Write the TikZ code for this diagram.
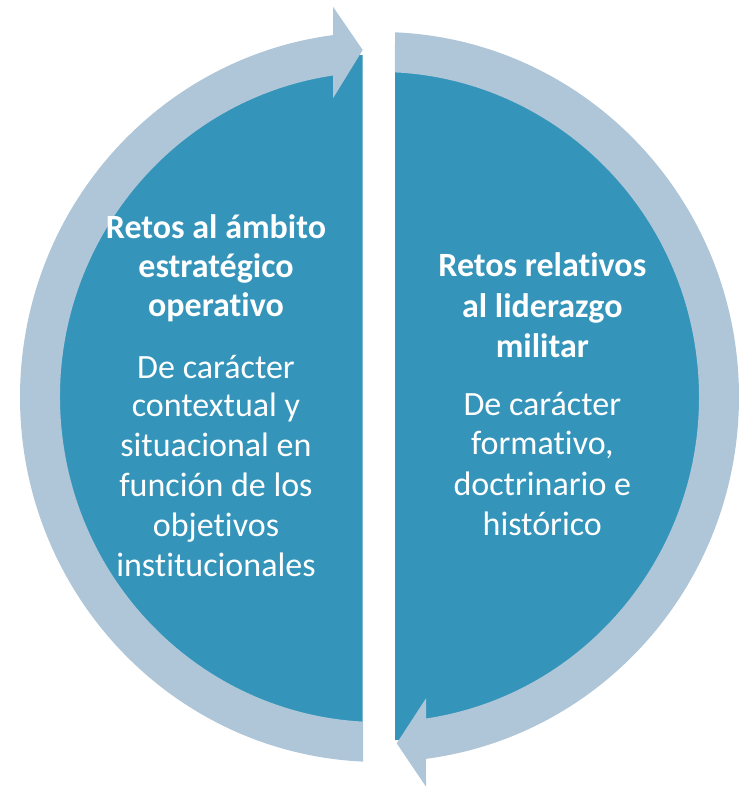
\documentclass[tikz,border=0pt]{standalone}
\usepackage{fontspec}
\setmainfont{Carlito}[RawFeature={-liga;-clig;-dlig}]
\definecolor{discblue}{HTML}{3494BA}
\definecolor{ringblue}{HTML}{AFC6D8}
\begin{document}
\begin{tikzpicture}[x=1pt,y=1pt,
  disc/.style={fill=discblue},
  ring/.style={fill=ringblue},
  ttl/.style={anchor=base,text=white,inner sep=0pt,font=\fontsize{34}{40}\selectfont\bfseries},
  bdy/.style={anchor=base,text=white,inner sep=0pt,font=\fontsize{34}{40}\selectfont}]
\useasboundingbox (0,0) rectangle (748,-788);
% half discs
\fill[disc] (362.7,-55) arc[start angle=90,end angle=270,x radius=305.7,y radius=334] -- cycle;
\fill[disc] (395,-72) arc[start angle=90,end angle=-90,x radius=305.7,y radius=334] -- cycle;
% left circular arrow
\fill[ring] (363,-761.6) arc[start angle=267.37,end angle=97.43,x radius=359.5,y radius=365]
  -- (333,-6.7) -- (362.7,-50) -- (333,-98.3) -- (333,-75.5)
  arc[start angle=98.37,end angle=267.04,x radius=319.5,y radius=325] -- cycle;
% right circular arrow
\fill[ring] (395,-32.3) arc[start angle=87.53,end angle=-82.57,x radius=359.5,y radius=365]
  -- (426,-786.7) -- (396.7,-743.3) -- (426,-698.3) -- (426,-718.5)
  arc[start angle=-81.63,end angle=87.22,x radius=319.5,y radius=325] -- cycle;
% left texts
\node[ttl] (lt1) at (216,-238.3) {Retos al ámbito};
\node[ttl] (lt2) at (216,-277.5) {estratégico};
\node[ttl] (lt3) at (216,-316.7) {operativo};
\node[bdy] (lb1) at (216,-378) {De carácter};
\node[bdy] (lb2) at (216,-416.7) {contextual y};
\node[bdy] (lb3) at (216,-456.7) {situacional en};
\node[bdy] (lb4) at (216,-496.7) {función de los};
\node[bdy] (lb5) at (216,-536.7) {objetivos};
\node[bdy] (lb6) at (216,-576.7) {institucionales};
% right texts
\node[ttl] (rt1) at (542.3,-276.7) {Retos relativos};
\node[ttl] (rt2) at (542.3,-317) {al liderazgo};
\node[ttl] (rt3) at (542.3,-357.5) {militar};
\node[bdy] (rb1) at (542.3,-415) {De carácter};
\node[bdy] (rb2) at (542.3,-454.5) {formativo,};
\node[bdy] (rb3) at (542.3,-495) {doctrinario e};
\node[bdy] (rb4) at (542.3,-535) {histórico};
\end{tikzpicture}
\end{document}
